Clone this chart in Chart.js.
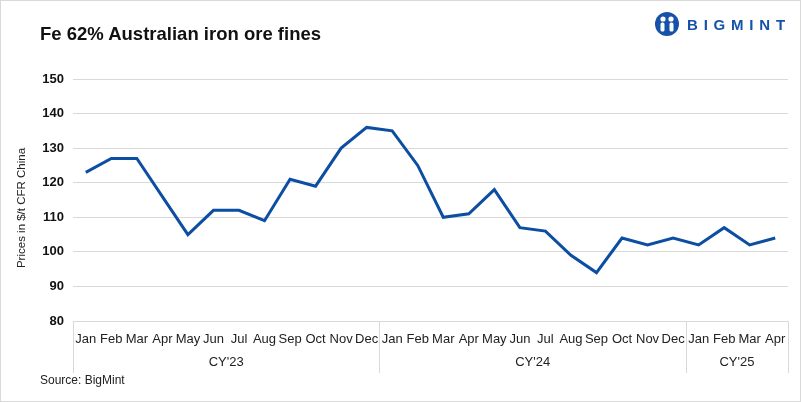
<!DOCTYPE html>
<html>
<head>
<meta charset="utf-8">
<script src="https://cdn.jsdelivr.net/npm/chart.js@4.4.0/dist/chart.umd.min.js"></script>
<style>
  html, body { margin: 0; padding: 0; background: #fff; }
  #frame {
    position: relative; width: 801px; height: 402px;
    box-sizing: border-box; border: 1px solid #d9d9d9; overflow: hidden;
    font-family: "Liberation Sans", Arial, sans-serif;
  }
  #chart-box { position: absolute; left: -1px; top: -1px; width: 801px; height: 402px; }
  #title {
    position: absolute; left: 39px; top: 23px;
    font-size: 18.5px; font-weight: bold; color: #111; line-height: 20px;
  }
  #logo {
    position: absolute; left: 653px; top: 10px; height: 26px;
    display: flex; align-items: center;
  }
  #logo span {
    margin-left: 7px; font-size: 15px; font-weight: bold; color: #1552a8;
    letter-spacing: 5.8px;
  }
  #source {
    position: absolute; left: 39px; top: 372px;
    font-size: 12px; color: #222;
  }
</style>
</head>
<body>
<div id="frame">
  <div id="chart-box"><canvas id="chart"></canvas></div>
  <div id="title">Fe 62% Australian iron ore fines</div>
  <div id="logo">
    <svg width="26" height="24" viewBox="0 0 26 24">
      <circle cx="13" cy="12" r="12" fill="#1552a8"/>
      <circle cx="9" cy="7" r="2.6" fill="#fff"/>
      <circle cx="17" cy="7" r="2.6" fill="#fff"/>
      <rect x="6.5" y="10.5" width="4" height="9" rx="1.5" fill="#fff"/>
      <rect x="15.5" y="10.5" width="4" height="9" rx="1.5" fill="#fff"/>
      <rect x="11.8" y="9" width="2.4" height="12" fill="#1552a8"/>
    </svg>
    <span>BIGMINT</span>
  </div>
  <div id="source">Source: BigMint</div>
</div>
<script>
const months = [
    "Jan", "Feb", "Mar", "Apr", "May", "Jun", "Jul", "Aug", "Sep", "Oct", "Nov", "Dec",
    "Jan", "Feb", "Mar", "Apr", "May", "Jun", "Jul", "Aug", "Sep", "Oct", "Nov", "Dec",
    "Jan", "Feb", "Mar", "Apr",
];
const yearLabels = ["CY'23", "CY'24", "CY'25"];
const monthsPerYear = [12, 12, 4];
const prices = [
    123, 127, 127, 116, 105, 112, 112, 109, 121, 119, 130, 136,
    135, 125, 110, 111, 118, 107, 106, 99, 94, 104, 102, 104,
    102, 107, 102, 104,
];
const yTicks = [80, 150, 10]; // min, max, step
const yTitle = "Prices in $/t CFR China";

const gridColor = "#d9d9d9";
const textColor = "#222";
const fontFamily = "'Liberation Sans', Arial, sans-serif";

// separators below the axis, the year row and the y title
const yearGroups = {
    id: "yearGroups",
    afterDraw(chart) {
        const x = chart.scales.x;
        const ctx = chart.ctx;
        const half = (x.getPixelForValue(1) - x.getPixelForValue(0)) / 2;
        const top = chart.chartArea.bottom;
        const bottom = top + 52;
        const edges = [0];
        monthsPerYear.forEach(function (n) {
            edges.push(edges[edges.length - 1] + n);
        });
        ctx.save();
        ctx.strokeStyle = gridColor;
        ctx.lineWidth = 1;
        edges.forEach(function (i) {
            const px = Math.round(x.getPixelForValue(i) - half) + 0.5;
            ctx.beginPath();
            ctx.moveTo(px, top);
            ctx.lineTo(px, bottom);
            ctx.stroke();
        });
        ctx.fillStyle = textColor;
        ctx.font = "13px " + fontFamily;
        ctx.textAlign = "center";
        ctx.textBaseline = "middle";
        yearLabels.forEach(function (label, k) {
            const a = x.getPixelForValue(edges[k]) - half;
            const b = x.getPixelForValue(edges[k + 1]) - half;
            ctx.fillText(label, (a + b) / 2, top + 41);
        });

        ctx.font = "11.5px " + fontFamily;
        ctx.translate(22, 208);
        ctx.rotate(-Math.PI / 2);
        ctx.fillText(yTitle, 0, 0);
        ctx.restore();
    },
};

const ctx = document.getElementById("chart");
new Chart(ctx, {
    type: "line",
    data: {
        labels: months,
        datasets: [
            {
                label: "Fe 62% Australian iron ore fines",
                data: prices,
                borderColor: "#0b4ea2",
                borderWidth: 3,
                pointRadius: 0,
                tension: 0,
                fill: false,
            },
        ],
    },
    options: {
        responsive: true,
        maintainAspectRatio: false,
        animation: false,
        layout: {
            padding: { left: 10, right: 13, top: 79, bottom: 29 },
        },
        scales: {
            x: {
                offset: true,
                grid: { display: false },
                border: { display: true, color: gridColor },
                ticks: {
                    autoSkip: false,
                    maxRotation: 0,
                    padding: 3,
                    color: textColor,
                    font: { family: fontFamily, size: 13 },
                },
                afterFit: function (scale) {
                    scale.height = 52;
                },
            },
            y: {
                min: yTicks[0],
                max: yTicks[1],
                border: { display: false },
                grid: { color: gridColor, drawTicks: false },
                ticks: {
                    stepSize: yTicks[2],
                    padding: 9,
                    color: "#111",
                    font: { family: fontFamily, size: 13, weight: "bold" },
                },
                afterFit: function (scale) {
                    scale.width = 63;
                },
            },
        },
        plugins: {
            legend: { display: false },
            tooltip: { enabled: false },
        },
    },
    plugins: [yearGroups],
});
</script>
</body>
</html>
